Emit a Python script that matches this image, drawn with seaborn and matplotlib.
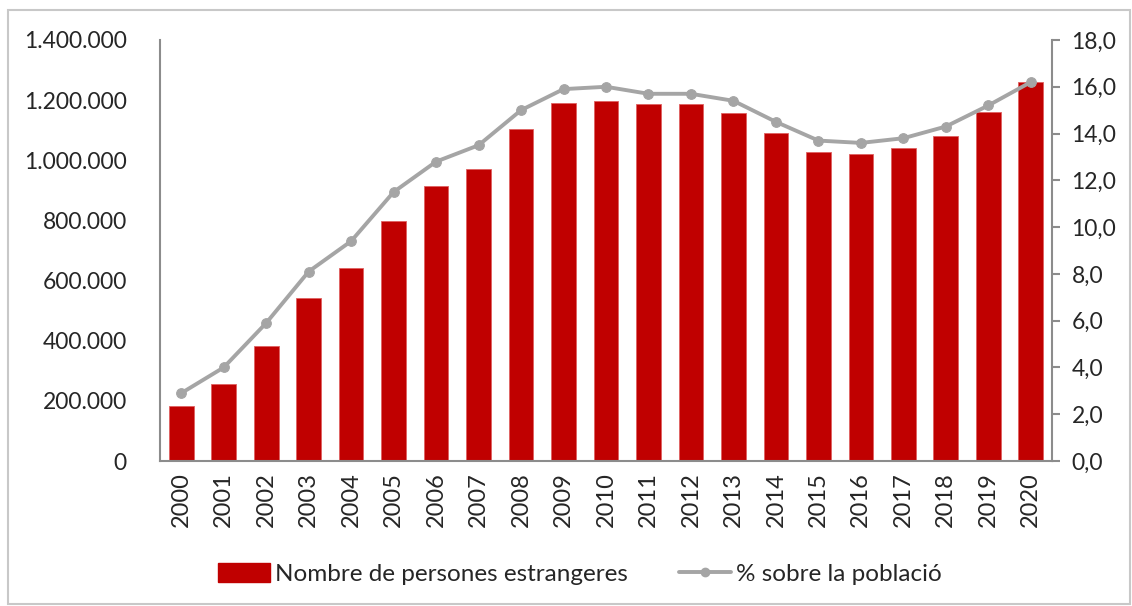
import matplotlib
matplotlib.use("Agg")
import matplotlib.pyplot as plt
import seaborn as sns
import pandas as pd
from matplotlib.patches import Rectangle
from matplotlib.lines import Line2D

years = [str(y) for y in range(2000, 2021)]
persones = [181590, 257320, 382020, 543008, 642846, 798904, 913757, 972507,
            1103790, 1189279, 1198538, 1185852, 1186779, 1158472, 1089214,
            1028674, 1021879, 1041267, 1082099, 1162113, 1260619]
percent = [2.9, 4.0, 5.9, 8.1, 9.4, 11.5, 12.8, 13.5, 15.0, 15.9, 16.0,
           15.7, 15.7, 15.4, 14.5, 13.7, 13.6, 13.8, 14.3, 15.2, 16.2]
left_ticks = [0, 200000, 400000, 600000, 800000, 1000000, 1200000, 1400000]
left_labels = ["0", "200.000", "400.000", "600.000", "800.000", "1.000.000", "1.200.000", "1.400.000"]
right_ticks = [0, 2, 4, 6, 8, 10, 12, 14, 16, 18]
right_labels = ["0,0", "2,0", "4,0", "6,0", "8,0", "10,0", "12,0", "14,0", "16,0", "18,0"]

df = pd.DataFrame({"any": years, "persones": persones, "pct": percent})

sns.set_theme(style="white")
plt.rcParams["font.family"] = ["Lato", "DejaVu Sans"]

BAR = "#C00000"
LINE = "#A5A5A5"
SPINE = "#8C8C8C"

fig = plt.figure(figsize=(11.32, 6.06), dpi=100)
ax = fig.add_axes([160/1132, 1-461/606, (1052-160)/1132, (461-40)/606])

sns.barplot(data=df, x="any", y="persones", color=BAR, width=0.58,
            edgecolor="#E06060", linewidth=0.6, saturation=1, ax=ax)
ax.set_ylim(0, 1400000)
ax.set_xlim(-0.5, 20.5)
ax.set_yticks(left_ticks)
ax.set_yticklabels(left_labels, fontsize=16.5)
ax.set_xlabel("")
ax.set_ylabel("")
ax.tick_params(axis="x", labelrotation=90, labelsize=17, length=0, pad=8)
ax.tick_params(axis="y", length=0, pad=24)
for s in ["top", "right"]:
    ax.spines[s].set_visible(False)
for s in ["left", "bottom"]:
    ax.spines[s].set_color(SPINE)
    ax.spines[s].set_linewidth(1.5)

ax2 = ax.twinx()
sns.lineplot(data=df, x="any", y="pct", color=LINE, linewidth=2.8,
             marker="o", markersize=7, markeredgecolor=LINE, ax=ax2, legend=False)
ax2.set_ylim(0, 18)
ax2.set_xlim(-0.5, 20.5)
ax2.set_yticks(right_ticks)
ax2.set_yticklabels(right_labels, fontsize=16.5)
ax2.set_ylabel("")
ax2.tick_params(axis="y", length=6, width=1.5, color=SPINE, pad=8, direction="out", right=True)
for s in ["top", "left", "bottom"]:
    ax2.spines[s].set_visible(False)
ax2.spines["right"].set_color(SPINE)
ax2.spines["right"].set_linewidth(1.5)

handles = [Rectangle((0, 0), 1, 1, facecolor=BAR, edgecolor=BAR),
           Line2D([0], [0], color=LINE, linewidth=2.8, marker="o", markersize=6)]
fig.legend(handles, ["Nombre de persones estrangeres", "% sobre la població"],
           loc="center", bbox_to_anchor=(580/1132, 1-574/606), ncol=2,
           frameon=False, fontsize=17.5, handlelength=2.15, handleheight=0.85,
           columnspacing=2.1, handletextpad=0.2)

fig.patches.append(Rectangle((8/1132, 2/606), 1122/1132, 594/606, transform=fig.transFigure,
                             fill=False, edgecolor="#C8C8C8", linewidth=1.5))

fig.savefig("out.png", dpi=100)
